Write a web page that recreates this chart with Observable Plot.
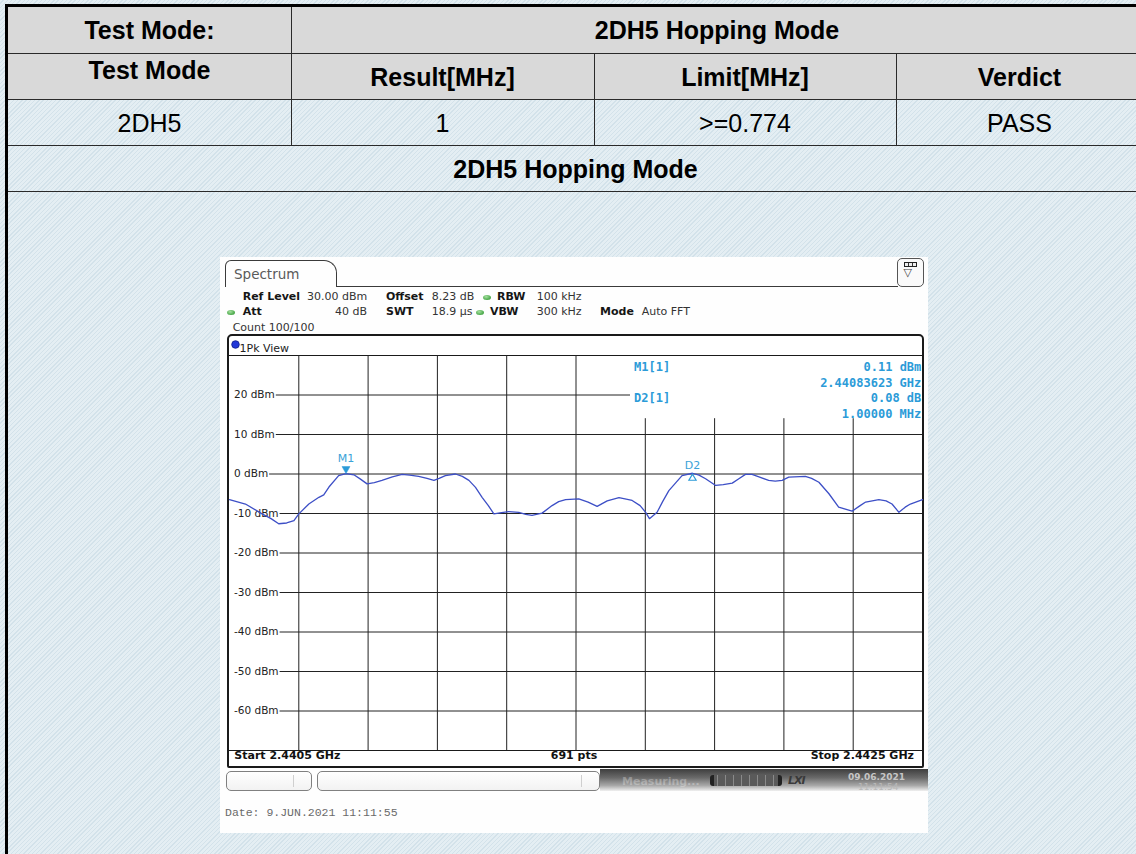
<!DOCTYPE html>
<html>
<head>
<meta charset="utf-8">
<script src="https://cdn.jsdelivr.net/npm/d3@7"></script>
<script src="https://cdn.jsdelivr.net/npm/@observablehq/plot@0.6"></script>
<style>
html,body{margin:0;padding:0;width:1136px;height:854px;overflow:hidden;}
body{position:relative;background:#e0ebf1 repeating-linear-gradient(135deg,#e4eef3 0px,#e4eef3 2px,#d3e2ea 2px,#d3e2ea 3px);font-family:"Liberation Sans",Arial,sans-serif;}
.a{position:absolute;}
.cell{position:absolute;text-align:center;font-size:25px;line-height:40px;height:40px;color:#000;white-space:nowrap;}
.b{font-weight:bold;}
.hl{position:absolute;height:1px;background:#2a2a2a;}
.vl{position:absolute;width:1px;background:#2a2a2a;}
.t{position:absolute;font-family:"DejaVu Sans";font-size:11px;line-height:14px;color:#333;white-space:nowrap;}
.t b{color:#161616;}
.gdot{position:absolute;width:8px;height:5px;border-radius:50%;background:radial-gradient(ellipse at 40% 35%,#a6e0a0,#46a646 70%,#2f7f2f);}
.sbox{position:absolute;height:20px;border:1px solid #808080;border-radius:5px;box-sizing:border-box;background:linear-gradient(#ffffff,#f2f2f2);}
</style>
</head>
<body>
<!-- table frame -->
<div class="a" style="left:8px;top:7px;width:1140px;height:92px;background:#d9d9d9;"></div>
<div class="a" style="left:5px;top:4px;width:1140px;height:3px;background:#000;"></div>
<div class="a" style="left:5px;top:4px;width:3px;height:852px;background:#000;"></div>
<div class="hl" style="left:8px;top:53px;width:1140px;"></div>
<div class="hl" style="left:8px;top:99px;width:1140px;"></div>
<div class="hl" style="left:8px;top:145px;width:1140px;"></div>
<div class="hl" style="left:8px;top:191px;width:1140px;"></div>
<div class="vl" style="left:291px;top:7px;height:138px;"></div>
<div class="vl" style="left:594px;top:53px;height:92px;"></div>
<div class="vl" style="left:896px;top:53px;height:92px;"></div>

<div id="table"></div>

<!-- spectrum screenshot -->
<div class="a" style="left:220px;top:257px;width:708px;height:576px;background:#fefefe;"></div>
<div class="a" style="left:225px;top:260px;width:112px;height:27px;border:1.5px solid #3a3a3a;border-bottom:none;border-radius:6px 13px 0 0;box-sizing:border-box;"></div>
<div class="a" style="left:336px;top:285.5px;width:562px;height:0;border-top:1.5px solid #3a3a3a;"></div>
<div class="a" style="left:896.5px;top:258px;width:27.5px;height:29px;border:1.5px solid #555;border-radius:5px;box-sizing:border-box;background:#fafafa;"></div>
<div class="a" style="left:904px;top:262px;width:13px;height:5px;border:1px solid #222;box-sizing:border-box;background:repeating-linear-gradient(90deg,#eee 0 3px,#333 3px 4px);"></div>
<div class="a" style="left:903.5px;top:266px;font:11px 'DejaVu Sans';color:#444;">▽</div>
<div class="t" style="left:234px;top:266px;font-size:13.5px;line-height:16px;color:#5a5a5a;">Spectrum</div>

<div class="t" style="left:242.7px;top:289.7px;"><b>Ref Level</b></div>
<div class="t" style="left:307px;top:289.7px;">30.00 dBm</div>
<div class="t" style="left:386px;top:289.7px;"><b>Offset</b></div>
<div class="t" style="left:431.7px;top:289.7px;">8.23 dB</div>
<div class="gdot" style="left:483px;top:294.5px;"></div>
<div class="t" style="left:497px;top:289.7px;"><b>RBW</b></div>
<div class="t" style="left:536.7px;top:289.7px;">100 kHz</div>

<div class="gdot" style="left:227px;top:310px;"></div>
<div class="t" style="left:242.7px;top:305.3px;"><b>Att</b></div>
<div class="t" style="left:335px;top:305.3px;">40 dB</div>
<div class="t" style="left:386px;top:305.3px;"><b>SWT</b></div>
<div class="t" style="left:431.7px;top:305.3px;">18.9 µs</div>
<div class="gdot" style="left:476px;top:310px;"></div>
<div class="t" style="left:490px;top:305.3px;"><b>VBW</b></div>
<div class="t" style="left:536.7px;top:305.3px;">300 kHz</div>
<div class="t" style="left:600px;top:305.3px;"><b>Mode</b></div>
<div class="t" style="left:641.7px;top:305.3px;">Auto FFT</div>
<div class="t" style="left:232.7px;top:320.7px;">Count 100/100</div>

<div id="frame" class="a" style="left:226.5px;top:334px;width:697px;height:434px;border:2px solid #1a1a1a;border-radius:5px 5px 2px 2px;box-sizing:border-box;background:#fff;"></div>

<!-- status bar -->
<div class="sbox" style="left:226px;top:771px;width:86px;"></div>
<div class="a" style="left:293px;top:775px;width:1px;height:12px;background:#cfcfcf;"></div>
<div class="sbox" style="left:317px;top:771px;width:283px;"></div>
<div class="a" style="left:581px;top:775px;width:1px;height:12px;background:#cfcfcf;"></div>
<div class="a" style="left:600px;top:769px;width:328px;height:22px;background:linear-gradient(#3e3e3e,#6a6a6a 40%,#a8a8a8 75%,#f0f0f0);"></div>
<div class="t" style="left:622px;top:775px;color:rgba(255,255,255,0.28);font-weight:bold;">Measuring...</div>
<div class="a" style="left:710px;top:775px;width:72px;height:11px;border-radius:3px;background:linear-gradient(90deg,#222 0 4px,transparent 4px calc(100% - 4px),#222 calc(100% - 4px)),repeating-linear-gradient(90deg,#5a5a5a 0 7px,#8a8a8a 7px 8px);"></div>
<div class="t" style="left:788px;top:774px;font-style:italic;font-weight:bold;color:#3a3a3a;letter-spacing:-1px;">LXI</div>
<div class="t" style="left:848px;top:772px;font-size:9px;line-height:11px;color:#c6c6c6;font-weight:bold;">09.06.2021</div>
<div class="t" style="left:858px;top:782px;font-size:9px;line-height:11px;color:#b8b8b8;">11:11:54</div>
<div class="t" style="left:225px;top:806px;font-family:'Liberation Mono';font-size:11.5px;color:#6a6a6a;">Date: 9.JUN.2021  11:11:55</div>

<script>
// ---- table data ----
const headerRow1 = ["Test Mode:", "2DH5 Hopping Mode"];
const headerRow2 = ["Test Mode", "Result[MHz]", "Limit[MHz]", "Verdict"];
const resultRow = ["2DH5", "1", ">=0.774", "PASS"];
const sectionTitle = "2DH5 Hopping Mode";

// ---- spectrum trace (frequency in MHz, level in dBm) ----
const freqMHz = [
  2440.500, 2440.546, 2440.594, 2440.620, 2440.642, 2440.665, 2440.686, 2440.700,
  2440.729, 2440.758, 2440.772, 2440.787, 2440.815, 2440.836, 2440.859, 2440.878,
  2440.897, 2440.918, 2440.940, 2440.970, 2440.998, 2441.020, 2441.046, 2441.070,
  2441.090, 2441.105, 2441.123, 2441.152, 2441.172, 2441.191, 2441.210, 2441.229,
  2441.247, 2441.263, 2441.285, 2441.306, 2441.335, 2441.355, 2441.373, 2441.402,
  2441.431, 2441.450, 2441.470, 2441.508, 2441.535, 2441.561, 2441.590, 2441.624,
  2441.662, 2441.685, 2441.701, 2441.712, 2441.734, 2441.750, 2441.768, 2441.806,
  2441.836, 2441.855, 2441.874, 2441.903, 2441.925, 2441.951, 2441.970, 2441.989,
  2442.008, 2442.030, 2442.056, 2442.075, 2442.095, 2442.114, 2442.162, 2442.180,
  2442.201, 2442.230, 2442.258, 2442.297, 2442.320, 2442.336, 2442.374, 2442.395,
  2442.412, 2442.432, 2442.450, 2442.465, 2442.500
];
const levelDbm = [
  -6.5, -7.6, -10.1, -11.3, -12.6, -12.4, -11.8, -10.1,
  -7.6, -5.9, -5.3, -3.3, -0.4, 0.11, -0.2, -1.3,
  -2.5, -2.2, -1.6, -0.7, -0.1, -0.3, -0.6, -1.1,
  -1.6, -1.1, -0.4, 0.0, -0.6, -1.6, -3.4, -5.9,
  -8.0, -10.1, -9.8, -9.5, -9.7, -10.2, -10.5, -9.9,
  -8.0, -7.0, -6.5, -6.3, -7.1, -8.2, -6.8, -6.0,
  -6.7, -8.0, -9.7, -11.3, -9.7, -7.0, -4.2, -0.4,
  0.19, -0.3, -1.2, -2.9, -2.7, -2.3, -1.2, -0.1,
  -0.1, -0.8, -1.6, -1.8, -1.6, -0.8, -0.6, -1.1,
  -2.1, -5.0, -8.4, -9.4, -8.0, -7.1, -6.5, -6.8,
  -7.6, -9.7, -8.4, -7.6, -6.5
];
const yTicks = [20, 10, 0, -10, -20, -30, -40, -50, -60];
const xGridMHz = [2440.7, 2440.9, 2441.1, 2441.3, 2441.5, 2441.7, 2441.9, 2442.1, 2442.3];
const markerNames = ["M1", "D2"];
const markerFreqMHz = [2440.83623, 2441.83623];
const markerLevelDbm = [0.11, 0.19];
const markerInfoLeft = ["M1[1]", "", "D2[1]"];
const markerInfoRight = ["0.11 dBm", "2.44083623 GHz", "0.08 dB", "1.00000 MHz"];
const viewTitle = "1Pk View";
const startLabel = "Start 2.4405 GHz";
const pointsLabel = "691 pts";
const stopLabel = "Stop 2.4425 GHz";

// ---- build table text ----
const tbl = document.getElementById("table");
function cell(text, left, right, cy, bold) {
  const d = document.createElement("div");
  d.className = "cell" + (bold ? " b" : "");
  d.style.left = left + "px";
  d.style.width = (right - left) + "px";
  d.style.top = (cy - 20) + "px";
  d.textContent = text;
  tbl.appendChild(d);
}
const colEdges = [8, 291, 594, 896, 1143];
cell(headerRow1[0], colEdges[0], colEdges[1], 30, true);
cell(headerRow1[1], colEdges[1], colEdges[4], 30, true);
headerRow2.forEach((t, i) => cell(t, colEdges[i], colEdges[i + 1], i === 0 ? 70 : 77, true));
resultRow.forEach((t, i) => cell(t, colEdges[i], colEdges[i + 1], 122.5, false));
cell(sectionTitle, colEdges[0], colEdges[4], 168.5, true);

// ---- plot ----
const W = 693, H = 430;
const xMin = 2440.5, xMax = 2442.5, yMin = -70, yMax = 30;
const pxPerMHz = W / (xMax - xMin);
const infoBoxLeft = xMax - 292 / pxPerMHz;
const infoBoxBottom = 14;
const labelFont = '10.5px "DejaVu Sans"';
const cv = document.createElement("canvas").getContext("2d");
cv.font = labelFont;
const tickRows = yTicks.map(v => {
  const text = `${v} dBm`;
  const w = cv.measureText(text).width;
  return {v, text, x1: xMin + (4.5 + w + 1.5) / pxPerMHz, x2: v === 20 ? infoBoxLeft : xMax};
});
const trace = freqMHz.map((f, i) => ({f, l: levelDbm[i]}));
const markers = markerNames.map((n, i) => ({n, f: markerFreqMHz[i], l: markerLevelDbm[i]}));
const m1 = markers.filter(d => d.n === "M1");
const d2 = markers.filter(d => d.n === "D2");
const mColor = "#2b9bd8";
const triDown = {draw(c) { c.moveTo(-4, -7); c.lineTo(4, -7); c.lineTo(0, 0); c.closePath(); }};
const triUp = {draw(c) { c.moveTo(0, 1); c.lineTo(3.6, 7); c.lineTo(-3.6, 7); c.closePath(); }};

const chart = Plot.plot({
  width: W,
  height: H,
  marginTop: 19,
  marginBottom: 16,
  marginLeft: 0,
  marginRight: 0,
  x: {domain: [xMin, xMax], axis: null},
  y: {domain: [yMin, yMax], axis: null},
  style: {fontFamily: "DejaVu Sans", background: "transparent", overflow: "visible"},
  marks: [
    Plot.ruleY([yMax, yMin], {stroke: "#1a1a1a", strokeWidth: 1}),
    Plot.ruleY(tickRows, {y: "v", x1: "x1", x2: "x2", stroke: "#222", strokeWidth: 1}),
    Plot.ruleX(xGridMHz, {x: d => d, y1: yMin, y2: d => d > infoBoxLeft ? infoBoxBottom : yMax, stroke: "#222", strokeWidth: 1}),
    Plot.text(tickRows, {x: () => xMin, y: "v", text: "text", dx: 4.5, textAnchor: "start", fontSize: 10.5, fill: "#222"}),
    Plot.line(trace, {x: "f", y: "l", stroke: "#3d4fc6", strokeWidth: 1.3}),
    Plot.dot(m1, {x: "f", y: "l", symbol: triDown, r: 4, fill: mColor, stroke: mColor, strokeWidth: 0.5}),
    Plot.dot(d2, {x: "f", y: "l", symbol: triUp, r: 4, fill: "none", stroke: mColor, strokeWidth: 1.2}),
    Plot.text(m1, {x: "f", y: "l", text: "n", dy: -15, fontSize: 11, fill: "#3aa2d8"}),
    Plot.text(d2, {x: "f", y: "l", text: "n", dy: -8, fontSize: 11, fill: "#3aa2d8"}),
    Plot.text([markerInfoLeft.join("\n")], {x: () => infoBoxLeft, frameAnchor: "top", text: d => d, dx: 3.5, dy: 4.9, textAnchor: "start", lineAnchor: "top", lineHeight: 1.29, fontFamily: "DejaVu Sans Mono", fontWeight: "bold", fontSize: 12, fill: mColor}),
    Plot.text([markerInfoRight.join("\n")], {frameAnchor: "top-right", text: d => d, dx: -1.2, dy: 4.9, textAnchor: "end", lineAnchor: "top", lineHeight: 1.29, fontFamily: "DejaVu Sans Mono", fontWeight: "bold", fontSize: 12, fill: mColor}),
    Plot.dot([viewTitle], {frameAnchor: "top-left", dx: 6, dy: -11, r: 3.8, fill: "#2238d8", stroke: "#0c1c88", strokeWidth: 0.8}),
    Plot.text([viewTitle], {frameAnchor: "top-left", text: d => d, dx: 10, dy: -11, textAnchor: "start", fontSize: 11, fill: "#222"}),
    Plot.text([startLabel], {frameAnchor: "bottom-left", text: d => d, dx: 4.8, dy: 8.7, textAnchor: "start", fontSize: 11, fontWeight: "bold", fill: "#111"}),
    Plot.text([pointsLabel], {frameAnchor: "bottom", text: d => d, dx: -2, dy: 8.7, fontSize: 11, fontWeight: "bold", fill: "#111"}),
    Plot.text([stopLabel], {frameAnchor: "bottom-right", text: d => d, dx: -8.5, dy: 8.7, textAnchor: "end", fontSize: 11, fontWeight: "bold", fill: "#111"})
  ]
});
chart.style.display = "block";
document.getElementById("frame").appendChild(chart);
</script>
</body>
</html>
